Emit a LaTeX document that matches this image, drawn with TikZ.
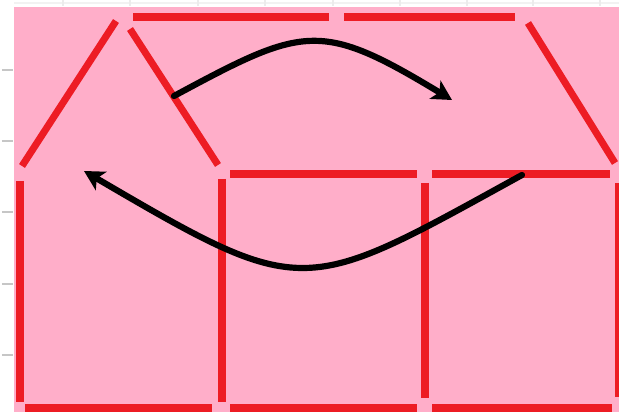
\documentclass[tikz,border=0pt]{standalone}
\usepackage{xcolor}
\usepackage{tikz}
\usetikzlibrary{arrows.meta}
\definecolor{stickred}{HTML}{ED1C24}
\definecolor{housepink}{HTML}{FFAEC9}

\begin{document}
\begin{tikzpicture}[x=0.025cm,y=-0.025cm,>={Stealth[length=14pt,width=15pt,inset=3.5pt]},
  stick/.style={draw=stickred,line width=5pt},
  move/.style={->,line width=4.4pt,line cap=round},
  tick/.style={draw=gray!45,line width=1.2pt}]
  \useasboundingbox (0,0) rectangle (619,412);
  \fill[housepink] (14,7) rectangle (619,412);
  \draw[tick] (2,70)--(13,70);
  \draw[tick] (2,141)--(13,141);
  \draw[tick] (2,212)--(13,212);
  \draw[tick] (2,284)--(13,284);
  \draw[tick] (2,355)--(13,355);
  \draw[draw=gray!10,line width=0.8pt] (14,3)--(619,3);
  \draw[tick,draw=gray!15] (63,0)--(63,6);
  \draw[tick,draw=gray!15] (130,0)--(130,6);
  \draw[tick,draw=gray!15] (198,0)--(198,6);
  \draw[tick,draw=gray!15] (265,0)--(265,6);
  \draw[tick,draw=gray!15] (333,0)--(333,6);
  \draw[tick,draw=gray!15] (400,0)--(400,6);
  \draw[tick,draw=gray!15] (467,0)--(467,6);
  \draw[tick,draw=gray!15] (533,0)--(533,6);
  \draw[tick,draw=gray!15] (600,0)--(600,6);
  \draw[stick] (116,21)--(22,166);
  \draw[stick] (130,29)--(218,165);
  \draw[stick] (133,17)--(329,17);
  \draw[stick] (344,17)--(515,17);
  \draw[stick] (528,23)--(615,163);
  \draw[stick] (230,174)--(417,174);
  \draw[stick] (432,174)--(610,174);
  \draw[stick] (20,181)--(20,402);
  \draw[stick] (222,179)--(222,402);
  \draw[stick] (425,183)--(425,398);
  \draw[stick] (619,183)--(619,397);
  \draw[stick] (25,408)--(212,408);
  \draw[stick] (230,408)--(417,408);
  \draw[stick] (432,408)--(612,408);
  \coordinate (roofstart) at (174,96);
  \coordinate (roofend) at (452,100);
  \coordinate (wallstart) at (522,175);
  \coordinate (wallend) at (84,171);
  \draw[move] (roofstart) .. controls (304,26) and (320,20) .. (roofend);
  \draw[move] (wallstart) .. controls (302,296) and (306,301) .. (wallend);
\end{tikzpicture}
\end{document}
